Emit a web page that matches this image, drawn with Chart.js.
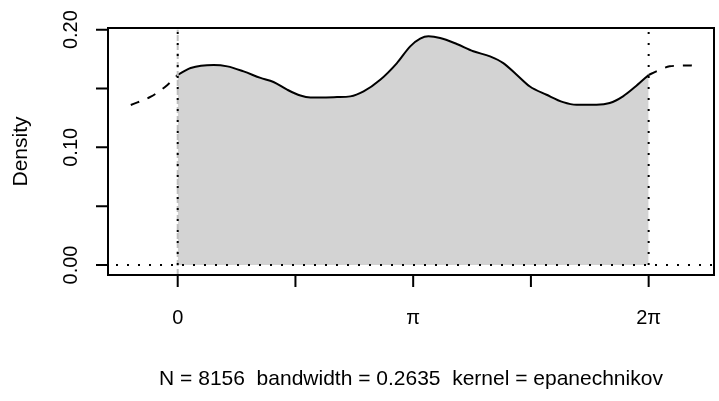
<!DOCTYPE html>
<html>
<head>
<meta charset="utf-8">
<script src="https://cdn.jsdelivr.net/npm/chart.js@4"></script>
<style>
  html, body { margin: 0; padding: 0; background: #fff; }
  canvas { display: block; }
</style>
</head>
<body>
<canvas id="densityChart" width="719" height="401"></canvas>
<script>
// density estimate on [0, 2pi]
const theta = [0, 0.173, 0.479, 0.662, 0.879, 1.105, 1.278, 1.460, 1.637, 1.771, 1.904,
  2.126, 2.303, 2.480, 2.702, 2.925, 3.102, 3.235, 3.345, 3.501, 3.723, 3.944, 4.167,
  4.344, 4.522, 4.699, 4.921, 5.142, 5.321, 5.587, 5.764, 5.941, 6.120, 6.283];
const density = [0.1615, 0.1674, 0.1700, 0.1688, 0.1645, 0.1590, 0.1555, 0.1490, 0.1440, 0.1424, 0.1424,
  0.1427, 0.1433, 0.1475, 0.1574, 0.1716, 0.1858, 0.1923, 0.1943, 0.1929, 0.1878, 0.1816, 0.1773,
  0.1716, 0.1617, 0.1517, 0.1447, 0.1384, 0.1362, 0.1362, 0.1376, 0.1433, 0.1523, 0.1615];
// wrapped parts drawn dashed outside the circle range
const thetaLeft = [-0.626, -0.359, -0.137, 0];
const densityLeft = [0.1360, 0.1430, 0.1530, 0.1615];
const thetaRight = [6.283, 6.386, 6.563, 6.829, 6.918];
const densityRight = [0.1615, 0.1645, 0.1688, 0.1696, 0.1688];

const xTicks = [0, Math.PI / 2, Math.PI, 3 * Math.PI / 2, 2 * Math.PI];
const xTickLabels = ['0', '', 'π', '', '2π'];
const yTicks = [0, 0.05, 0.10, 0.15, 0.20];
const yTickLabels = ['0.00', '', '0.10', '', '0.20'];
const vLines = [0, 2 * Math.PI];
const yLabel = 'Density';
const subTitle = 'N = 8156  bandwidth = 0.2635  kernel = epanechnikov';

const pts = (xs, ys) => xs.map((v, i) => ({x: v, y: ys[i]}));
const FAMILY = '"Liberation Sans", Arial, Helvetica, sans-serif';

// R style box, axes and reference lines
const rAxes = {
  id: 'rAxes',
  afterDatasetsDraw(chart) {
    const {ctx, chartArea: a, scales: {x, y}} = chart;
    ctx.save();
    const yTop = y.getPixelForValue(yTicks[yTicks.length - 1]);
    const yZero = y.getPixelForValue(0);

    // grey dashed line at 0
    ctx.strokeStyle = '#bebebe';
    ctx.lineWidth = 2;
    ctx.setLineDash([6, 3]);
    ctx.beginPath();
    ctx.moveTo(x.getPixelForValue(0), a.bottom);
    ctx.lineTo(x.getPixelForValue(0), yTop);
    ctx.stroke();

    // dotted lines
    ctx.strokeStyle = '#000';
    ctx.setLineDash([2, 9]);
    for (const v of vLines) {
      const px = x.getPixelForValue(v);
      ctx.beginPath();
      ctx.moveTo(px, yZero);
      ctx.lineTo(px, yTop);
      ctx.stroke();
    }
    ctx.beginPath();
    ctx.moveTo(a.left + 8, yZero);
    ctx.lineTo(a.right, yZero);
    ctx.stroke();
    ctx.setLineDash([]);

    // box
    ctx.lineWidth = 2;
    ctx.strokeRect(a.left, a.top, a.right - a.left, a.bottom - a.top);

    // ticks
    ctx.beginPath();
    for (const v of yTicks) {
      const py = y.getPixelForValue(v);
      ctx.moveTo(a.left, py);
      ctx.lineTo(a.left - 12, py);
    }
    for (const v of xTicks) {
      const px = x.getPixelForValue(v);
      ctx.moveTo(px, a.bottom);
      ctx.lineTo(px, a.bottom + 12);
    }
    ctx.stroke();

    // labels
    ctx.fillStyle = '#000';
    ctx.font = '20px ' + FAMILY;
    ctx.textAlign = 'center';
    ctx.textBaseline = 'middle';
    xTicks.forEach((v, i) => {
      if (xTickLabels[i]) ctx.fillText(xTickLabels[i], x.getPixelForValue(v), a.bottom + 43);
    });
    yTicks.forEach((v, i) => {
      if (!yTickLabels[i]) return;
      ctx.save();
      ctx.translate(a.left - 37, y.getPixelForValue(v));
      ctx.rotate(-Math.PI / 2);
      ctx.fillText(yTickLabels[i], 0, 0);
      ctx.restore();
    });
    ctx.font = '21px ' + FAMILY;
    ctx.save();
    ctx.translate(a.left - 87, (a.top + a.bottom) / 2);
    ctx.rotate(-Math.PI / 2);
    ctx.fillText(yLabel, 0, 0);
    ctx.restore();
    ctx.fillText(subTitle, (a.left + a.right) / 2, a.bottom + 104);
    ctx.restore();
  }
};

new Chart(document.getElementById('densityChart'), {
  type: 'line',
  data: {
    datasets: [
      {
        data: pts(theta, density),
        borderColor: '#000',
        borderWidth: 2,
        backgroundColor: '#d3d3d3',
        fill: 'origin',
        cubicInterpolationMode: 'monotone',
        pointRadius: 0
      },
      {
        data: pts(thetaLeft, densityLeft),
        borderColor: '#000',
        borderWidth: 2,
        borderDash: [9, 9],
        fill: false,
        cubicInterpolationMode: 'monotone',
        pointRadius: 0
      },
      {
        data: pts(thetaRight, densityRight),
        borderColor: '#000',
        borderWidth: 2,
        borderDash: [9, 9],
        fill: false,
        cubicInterpolationMode: 'monotone',
        pointRadius: 0
      }
    ]
  },
  options: {
    responsive: false,
    animation: false,
    devicePixelRatio: 1,
    layout: { padding: { left: 108, right: 5, top: 28, bottom: 126 } },
    plugins: { legend: { display: false }, tooltip: { enabled: false } },
    scales: {
      x: { type: 'linear', min: -0.930, max: 7.155, display: false },
      y: { min: -0.0085, max: 0.2014, display: false }
    }
  },
  plugins: [rAxes]
});
</script>
</body>
</html>
